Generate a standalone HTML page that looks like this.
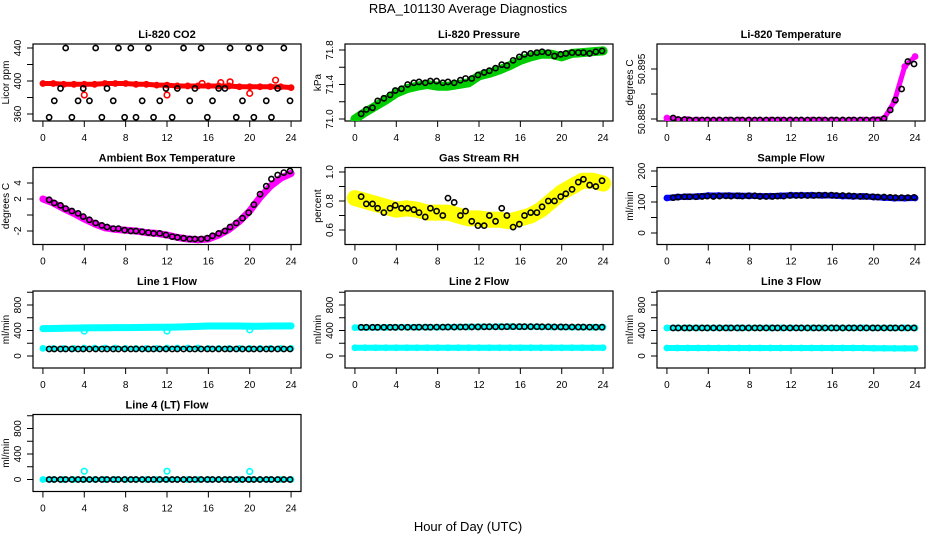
<!DOCTYPE html>
<html><head><meta charset="utf-8"><style>
body{margin:0;background:#fff;}
svg{display:block;font-family:"Liberation Sans",sans-serif;}
</style></head><body>
<svg id="chart" width="936" height="540" viewBox="0 0 936 540">
<text x="468" y="13" text-anchor="middle" font-size="13">RBA_101130  Average Diagnostics</text>
<text x="468" y="531" text-anchor="middle" font-size="13">Hour of Day (UTC)</text>
</svg>
<script>
// ---- data ----
const hours = [0,1,2,3,4,5,6,7,8,9,10,11,12,13,14,15,16,17,18,19,20,21,22,23,24];
const blackHours = [0.6,1.1,1.7,2.2,2.8,3.4,3.9,4.5,5.1,5.7,6.2,6.8,7.3,7.9,8.5,9.0,9.6,10.2,10.7,11.3,11.9,12.5,13.0,13.6,14.2,14.7,15.3,15.9,16.4,17.0,17.6,18.1,18.7,19.3,19.9,20.4,21.0,21.6,22.1,22.7,23.3,23.9];
const xTicks = [0,4,8,12,16,20,24];

const co2Red = [397,397,396,396,396,396,397,397,397,396,396,395,395,394,394,394,394,394,394,393,393,393,393,393,392];
const co2Black = [356,376,391,440,356,376,391,376,440,356,391,376,440,356,440,356,376,440,356,376,391,356,391,440,376,391,440,356,376,391,391,440,356,376,440,356,440,376,356,391,440,376];
const presGreen = [71.0,71.08,71.15,71.22,71.3,71.35,71.38,71.4,71.38,71.38,71.4,71.42,71.5,71.53,71.57,71.62,71.68,71.72,71.75,71.75,71.72,71.76,71.77,71.78,71.79];
const presBlack = [71.06,71.11,71.13,71.21,71.24,71.28,71.33,71.35,71.4,71.42,71.43,71.42,71.44,71.44,71.42,71.43,71.42,71.45,71.47,71.47,71.51,71.54,71.56,71.59,71.63,71.62,71.68,71.72,71.75,71.76,71.77,71.78,71.77,71.73,71.75,71.76,71.77,71.77,71.77,71.76,71.78,71.79];
const ltempMag = [50.8852,50.8849,50.8849,50.8848,50.8848,50.8848,50.8848,50.8848,50.8848,50.8848,50.8848,50.8848,50.8848,50.8848,50.8848,50.8848,50.8848,50.8848,50.8848,50.8848,50.8849,50.8851,50.8885,50.8955,50.8975];
const ltempBlack = [50.8852,50.8849,50.8849,50.8848,50.8848,50.8848,50.8848,50.8848,50.8848,50.8848,50.8848,50.8848,50.8848,50.8848,50.8848,50.8848,50.8848,50.8848,50.8848,50.8848,50.8848,50.8848,50.8848,50.8848,50.8848,50.8848,50.8848,50.8848,50.8848,50.8848,50.8848,50.8848,50.8848,50.8848,50.8848,50.8848,50.8851,50.8868,50.8888,50.891,50.8965,50.896];
const ambMag = [2.0,1.5,0.8,0.2,-0.5,-1.1,-1.6,-1.8,-1.9,-2.0,-2.2,-2.3,-2.5,-2.8,-3.0,-3.1,-3.0,-2.5,-1.8,-0.8,0.5,2.2,3.6,4.6,5.2];
const ambBlack = [1.9,1.5,1.2,0.8,0.5,0.2,-0.2,-0.6,-1.0,-1.3,-1.5,-1.7,-1.7,-1.9,-2.0,-2.0,-2.1,-2.2,-2.3,-2.3,-2.5,-2.7,-2.8,-2.9,-3.0,-3.0,-3.0,-2.9,-2.6,-2.3,-2.0,-1.5,-1.0,-0.4,0.3,1.3,2.6,3.6,4.5,5.0,5.3,5.5];
const rhYellow = [0.82,0.8,0.78,0.76,0.74,0.75,0.74,0.72,0.72,0.72,0.7,0.68,0.68,0.67,0.67,0.66,0.68,0.7,0.74,0.8,0.86,0.9,0.94,0.94,0.92];
const rhBlack = [0.83,0.78,0.78,0.75,0.72,0.75,0.77,0.75,0.75,0.74,0.72,0.69,0.75,0.73,0.7,0.82,0.79,0.7,0.73,0.66,0.63,0.63,0.7,0.66,0.75,0.7,0.62,0.64,0.7,0.72,0.72,0.76,0.8,0.8,0.83,0.85,0.88,0.93,0.95,0.91,0.9,0.94];
const sampleBlue = [113,116,117,118,121,121,121,120,120,119,119,120,122,122,122,121,121,119,118,118,116,114,112,112,113];
const sampleBlack = [114,116,117,117,117,118,119,118,119,120,119,120,119,120,120,118,118,118,119,119,121,121,121,121,121,122,122,122,121,121,120,119,118,118,117,116,116,115,114,114,114,115];
const l1Upper = [430,432,435,437,440,442,443,445,446,447,448,450,452,455,458,465,470,470,470,470,468,468,470,470,472];
const l1Lower = [120,120,120,120,125,125,125,125,120,120,120,120,125,125,125,125,120,120,120,120,120,120,120,120,120];
const l1Black = [110,110,110,110,110,110,110,110,110,110,110,110,110,110,110,110,110,110,110,110,110,110,110,110,110,110,110,110,110,110,110,110,110,110,110,110,110,110,110,110,110,110];
const l2Upper = [445,446,447,448,450,451,452,452,452,454,455,456,458,460,460,460,458,458,456,455,454,452,452,452,452];
const l2Lower = [130,130,130,130,130,130,130,130,130,130,130,130,130,130,130,130,130,130,130,130,130,130,130,130,130];
const l2Black = [450,450,450,450,450,450,450,451,451,451,452,452,452,453,453,454,454,455,455,456,456,458,458,458,458,460,460,460,460,460,460,458,458,456,456,455,455,454,454,453,452,452];
const l3Upper = [440,440,440,440,440,440,440,440,440,440,440,440,440,440,440,440,440,440,440,440,440,440,440,440,440];
const l3Lower = [125,125,125,125,125,125,125,125,125,125,125,125,125,125,125,125,125,125,125,125,122,122,120,120,120];
const l3Black = [440,440,440,440,440,440,440,440,440,440,440,440,440,440,440,440,440,440,440,440,440,440,440,440,440,440,440,440,440,440,440,440,440,440,440,440,440,440,440,440,440,440];
const l4Cyan = [0,0,0,0,0,0,0,0,0,0,0,0,0,0,0,0,0,0,0,0,0,0,0,0,0];
const l4Outliers = [[4,130],[12,130],[20,125]];
const l4Black = [0,0,0,0,0,0,0,0,0,0,0,0,0,0,0,0,0,0,0,0,0,0,0,0,0,0,0,0,0,0,0,0,0,0,0,0,0,0,0,0,0,0];
const co2Outliers = [[4,383],[12,383],[20,385],[15.4,397],[17.2,398],[18.1,399],[22.5,401]];
const flowOutliers = [[4,390],[12,390],[20,410]];

// ---- layout ----
const NS = "http://www.w3.org/2000/svg";
const svg = document.getElementById('chart');
const colX = [33,345,657], W = 268, H = 77;
function rowY(r){ return 44 + 123.5*r; }
function mk(tag, attrs, parent){
  const e = document.createElementNS(NS, tag);
  for (const k in attrs) e.setAttribute(k, attrs[k]);
  (parent||svg).appendChild(e);
  return e;
}
function xScale(x0){ return h => x0 + (h + 0.96) / 25.92 * W; }

function panel(opt){
  const x0 = colX[opt.col], y0 = rowY(opt.row);
  const g = mk('g', {});
  
  
  const xs = xScale(x0);
  const ys = v => opt.p1 + (v - opt.v1) * (opt.p2 - opt.p1) / (opt.v2 - opt.v1);
  const t = mk('text', {x: x0 + W/2, y: y0 - 6, 'text-anchor':'middle', 'font-size':11, 'font-weight':'bold'}, g);
  t.textContent = opt.title;
  
  
  const box = mk('rect', {x:x0, y:y0, width:W, height:H, fill:'none', stroke:'#000', 'stroke-width':1.2}, g);
  
  
  // x axis
  const xa = mk('g', {}, g);
  
  
  mk('line', {x1:xs(0), x2:xs(24), y1:y0+H, y2:y0+H, stroke:'#000'}, xa);
  xTicks.forEach(v => {
    mk('line', {x1:xs(v), x2:xs(v), y1:y0+H, y2:y0+H+6, stroke:'#000'}, xa);
    if (opt.xlabels !== false) {
      const l = mk('text', {x:xs(v), y:y0+H+20, 'text-anchor':'middle', 'font-size':10}, xa);
      l.textContent = v;
    }
  });
  // y axis
  const ya = mk('g', {}, g);
  
  
  mk('line', {x1:x0, x2:x0, y1:ys(opt.ticks[0]), y2:ys(opt.ticks[opt.ticks.length-1]), stroke:'#000'}, ya);
  opt.ticks.forEach((v,i) => {
    mk('line', {x1:x0-6, x2:x0, y1:ys(v), y2:ys(v), stroke:'#000'}, ya);
    const lab = opt.labels[i];
    if (lab) {
      const l = mk('text', {x:x0-12, y:ys(v), 'text-anchor':'middle', 'font-size':10, transform:`rotate(-90 ${x0-12} ${ys(v)})`}, ya);
      l.textContent = lab;
    }
  });
  const yl = mk('text', {x:x0-24, y:y0+H/2, 'text-anchor':'middle', 'font-size':10, transform:`rotate(-90 ${x0-24} ${y0+H/2})`}, g);
  yl.textContent = opt.ylab;
  
  
  // clip
  const cid = 'c' + opt.name;
  const cp = mk('clipPath', {id:cid}, g);
  mk('rect', {x:x0, y:y0, width:W, height:H}, cp);
  const pg = mk('g', {'clip-path':`url(#${cid})`}, g);
  (opt.series||[]).forEach(s => {
    const sg = mk('g', {}, pg);
    
    
    const hx = s.hours || hours;
    if (s.band) {
      const pts = s.values.map((v,i) => xs(hx[i]).toFixed(1) + ',' + ys(v).toFixed(1)).join(' ');
      mk('polyline', {points:pts, fill:'none', stroke:s.color, 'stroke-width':s.band, 'stroke-linejoin':'round', 'stroke-linecap':'round'}, sg);
    }
    s.values.forEach((v,i) => {
      const c = mk('circle', {cx:xs(hx[i]), cy:ys(v), r:2.6, fill:'none', stroke:s.color, 'stroke-width':1.6}, sg);
      
      
    });
    (s.extra||[]).forEach(p => {
      const c = mk('circle', {cx:xs(p[0]), cy:ys(p[1]), r:2.8, fill:'none', stroke:s.color, 'stroke-width':1.6}, sg);
      
      
    });
  });
}

const flowTicks = [0,200,400,600,800,1000], flowLabels = ['0','','400','','800',''];
function flowPanel(name, title, col, row, series, xlabels){
  const y0 = rowY(row);
  panel({name, title, col, row, ylab:'ml/min', v1:0, p1:y0+65, v2:800, p2:y0+14, ticks:flowTicks, labels:flowLabels, series, xlabels});
}

panel({name:'co2', title:'Li-820 CO2', col:0, row:0, ylab:'Licor ppm', v1:440, p1:48, v2:360, p2:114,
  ticks:[360,380,400,420,440], labels:['360','','400','','440'],
  series:[{name:'co2-red-series', color:'#f00', values:co2Red, band:5, extra:co2Outliers},
          {name:'co2-black-series', color:'#000', values:co2Black, hours:blackHours}]});
panel({name:'pressure', title:'Li-820 Pressure', col:1, row:0, ylab:'kPa', v1:71.0, p1:119, v2:71.8, p2:50,
  ticks:[71.0,71.2,71.4,71.6,71.8], labels:['71.0','','71.4','','71.8'],
  series:[{name:'pressure-green-series', color:'#0c0', values:presGreen, band:9},
          {name:'pressure-black-series', color:'#000', values:presBlack, hours:blackHours}]});
panel({name:'licor-temp', title:'Li-820 Temperature', col:2, row:0, ylab:'degrees C', v1:50.885, p1:119, v2:50.895, p2:69,
  ticks:[50.885,50.89,50.895], labels:['50.885','','50.895'],
  series:[{name:'licor-temp-magenta-series', color:'#f0f', values:ltempMag, band:5},
          {name:'licor-temp-black-series', color:'#000', values:ltempBlack, hours:blackHours}]});
panel({name:'ambient', title:'Ambient Box Temperature', col:0, row:1, ylab:'degrees C', v1:2, p1:199, v2:-2, p2:231,
  ticks:[-2,0,2,4], labels:['-2','','2','4'],
  series:[{name:'ambient-magenta-series', color:'#f0f', values:ambMag, band:7},
          {name:'ambient-black-series', color:'#000', values:ambBlack, hours:blackHours}]});
panel({name:'rh', title:'Gas Stream RH', col:1, row:1, ylab:'percent', v1:1.0, p1:172, v2:0.6, p2:230,
  ticks:[0.6,0.7,0.8,0.9,1.0], labels:['0.6','','0.8','','1.0'],
  series:[{name:'rh-yellow-series', color:'#ff0', values:rhYellow, band:16},
          {name:'rh-black-series', color:'#000', values:rhBlack, hours:blackHours}]});
panel({name:'sample-flow', title:'Sample Flow', col:2, row:1, ylab:'ml/min', v1:0, p1:233, v2:200, p2:171,
  ticks:[0,50,100,150,200], labels:['0','','100','','200'],
  series:[{name:'sample-blue-series', color:'#00f', values:sampleBlue, band:6},
          {name:'sample-black-series', color:'#000', values:sampleBlack, hours:blackHours}]});
flowPanel('line1', 'Line 1 Flow', 0, 2, [
  {name:'line1-cyan-upper', color:'#0ff', values:l1Upper, band:7, extra:flowOutliers},
  {name:'line1-cyan-lower', color:'#0ff', values:l1Lower, band:4},
  {name:'line1-black-series', color:'#000', values:l1Black, hours:blackHours}]);
flowPanel('line2', 'Line 2 Flow', 1, 2, [
  {name:'line2-cyan-upper', color:'#0ff', values:l2Upper, band:6},
  {name:'line2-cyan-lower', color:'#0ff', values:l2Lower, band:6},
  {name:'line2-black-series', color:'#000', values:l2Black, hours:blackHours}]);
flowPanel('line3', 'Line 3 Flow', 2, 2, [
  {name:'line3-cyan-upper', color:'#0ff', values:l3Upper, band:6},
  {name:'line3-cyan-lower', color:'#0ff', values:l3Lower, band:6},
  {name:'line3-black-series', color:'#000', values:l3Black, hours:blackHours}]);
flowPanel('line4', 'Line 4 (LT) Flow', 0, 3, [
  {name:'line4-cyan-series', color:'#0ff', values:l4Cyan, band:5, extra:l4Outliers},
  {name:'line4-black-series', color:'#000', values:l4Black, hours:blackHours}]);
</script>
</body></html>
